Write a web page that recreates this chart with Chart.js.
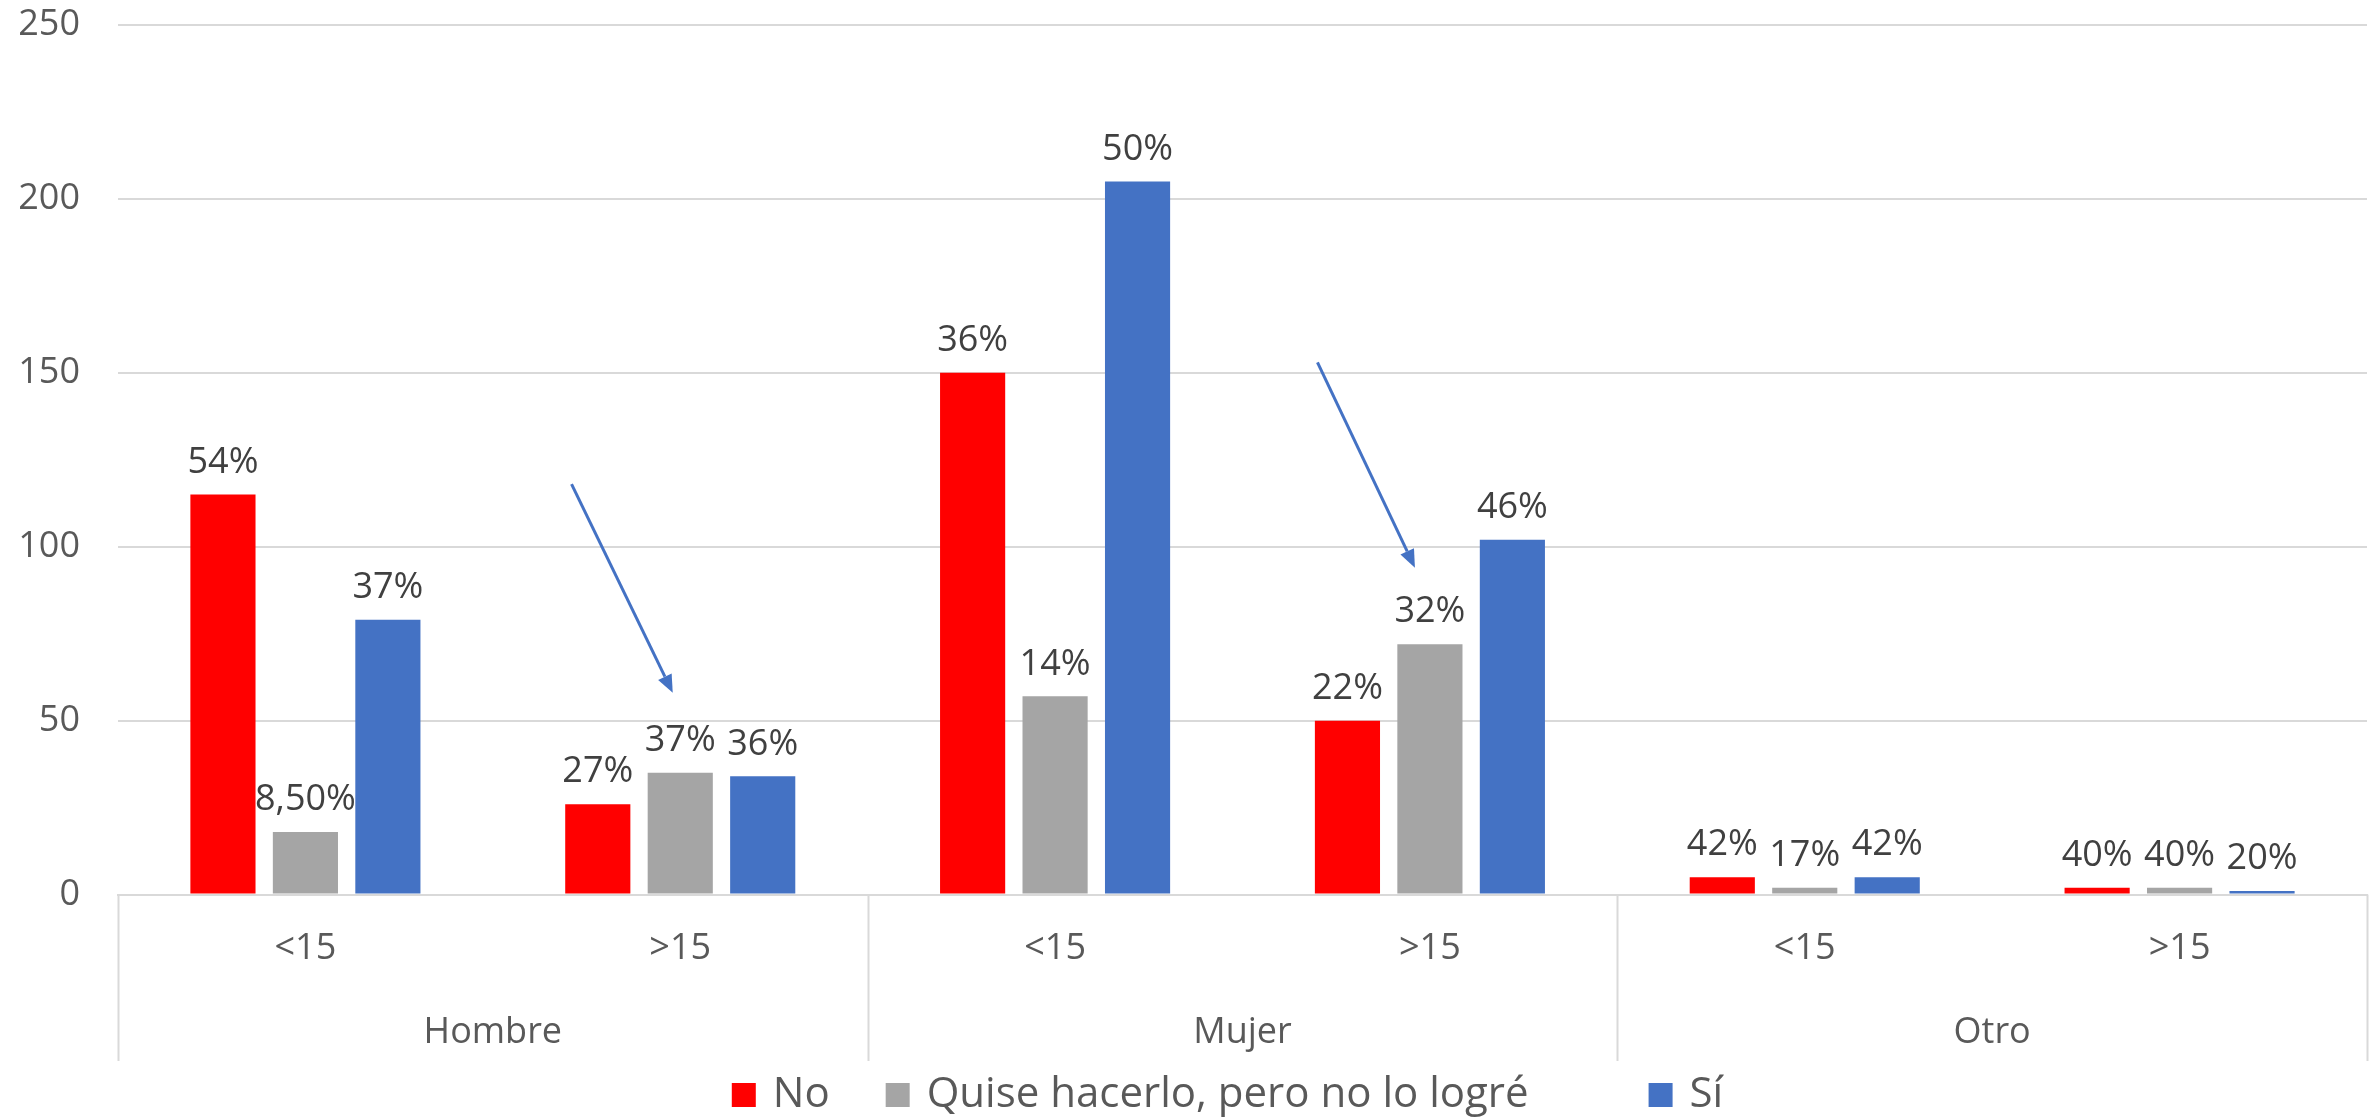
<!DOCTYPE html>
<html>
<head>
<meta charset="utf-8">
<title>Respuestas por sexo y edad</title>
<script src="https://cdn.jsdelivr.net/npm/chart.js@4.4.1/dist/chart.umd.min.js"></script>
<style>
  html, body { margin: 0; padding: 0; background: #ffffff; }
  #wrap { width: 2379px; height: 1118px; }
</style>
</head>
<body>
<div id="wrap"><canvas id="barChart"></canvas></div>
<script>
// categories
var groups = ["Hombre", "Mujer", "Otro"];
var ageBands = ["<15", ">15", "<15", ">15", "<15", ">15"];
var seriesNames = ["No", "Quise hacerlo, pero no lo logré", "Sí"];
var seriesColors = ["#ff0000", "#a5a5a5", "#4472c4"];

// counts per age band
var noValues = [115, 26, 150, 50, 5, 2];
var quiseValues = [18, 35, 57, 72, 2, 2];
var siValues = [79, 34, 205, 102, 5, 1];

// percentage labels shown above each bar
var noLabels = ["54%", "27%", "36%", "22%", "42%", "40%"];
var quiseLabels = ["8,50%", "37%", "14%", "32%", "17%", "40%"];
var siLabels = ["37%", "36%", "50%", "46%", "42%", "20%"];

// y axis
var yMin = 0;
var yMax = 250;
var yStep = 50;

// arrows, in axis units: [xFrom, yFrom, xTo, yTo]
var arrows = [
	[0.71, 118, 0.98, 58],
	[2.70, 153, 2.96, 94]
];

var FONT = "'Open Sans', 'DejaVu Sans', sans-serif";
var GRID = "#d9d9d9";

// percent text over bars
var barLabels = {
	id: "barLabels",
	afterDatasetsDraw: function(chart) {
		var ctx = chart.ctx;
		ctx.save();
		ctx.font = "36px " + FONT;
		ctx.fillStyle = "#404040";
		ctx.textAlign = "center";
		ctx.textBaseline = "bottom";
		chart.data.datasets.forEach(function(ds, i) {
			var meta = chart.getDatasetMeta(i);
			meta.data.forEach(function(bar, j) {
				ctx.fillText(ds.pctLabels[j], bar.x, bar.y - 14);
			});
		});
		ctx.restore();
	}
};

// vertical lines between the Hombre / Mujer / Otro blocks under the axis
var groupLines = {
	id: "groupLines",
	afterDraw: function(chart) {
		var xs = chart.scales.x;
		var x2 = chart.scales.x2;
		var per = ageBands.length / groups.length;
		var ctx = chart.ctx;
		ctx.save();
		ctx.strokeStyle = GRID;
		ctx.lineWidth = 2;
		for (var k = 0; k <= groups.length; k++) {
			var px;
			if (k === 0) px = xs.left;
			else if (k === groups.length) px = xs.right;
			else px = (xs.getPixelForValue(k * per - 1) + xs.getPixelForValue(k * per)) / 2;
			px = Math.round(px) + 0.5;
			ctx.beginPath();
			ctx.moveTo(px, xs.top);
			ctx.lineTo(px, x2.bottom);
			ctx.stroke();
		}
		ctx.restore();
	}
};

// blue arrows pointing at the >15 groups
var arrowMarks = {
	id: "arrowMarks",
	afterDatasetsDraw: function(chart) {
		var xs = chart.scales.x;
		var ys = chart.scales.y;
		var ctx = chart.ctx;
		ctx.save();
		ctx.strokeStyle = "#4472c4";
		ctx.fillStyle = "#4472c4";
		ctx.lineWidth = 3;
		arrows.forEach(function(a) {
			var x0 = xs.getPixelForValue(a[0]), y0 = ys.getPixelForValue(a[1]);
			var x1 = xs.getPixelForValue(a[2]), y1 = ys.getPixelForValue(a[3]);
			var ang = Math.atan2(y1 - y0, x1 - x0);
			var head = 18, half = 7.5;
			var bx = x1 - head * Math.cos(ang), by = y1 - head * Math.sin(ang);
			ctx.beginPath();
			ctx.moveTo(x0, y0);
			ctx.lineTo(bx, by);
			ctx.stroke();
			ctx.beginPath();
			ctx.moveTo(x1, y1);
			ctx.lineTo(bx + half * Math.sin(ang), by - half * Math.cos(ang));
			ctx.lineTo(bx - half * Math.sin(ang), by + half * Math.cos(ang));
			ctx.closePath();
			ctx.fill();
		});
		ctx.restore();
	}
};

// legend row at the bottom, with a wider gap before the last entry
var legendRow = {
	id: "legendRow",
	afterDraw: function(chart) {
		var ctx = chart.ctx;
		var box = 24, textGap = 17;
		var gaps = [56, 120];
		ctx.save();
		ctx.font = "42px " + FONT;
		ctx.textBaseline = "middle";
		var widths = seriesNames.map(function(n) { return box + textGap + ctx.measureText(n).width; });
		var total = widths.reduce(function(a, b) { return a + b; }, 0) + gaps[0] + gaps[1];
		var area = chart.chartArea;
		var x = (area.left + area.right) / 2 - total / 2 - 15;
		var y = chart.height - 23;
		seriesNames.forEach(function(n, i) {
			ctx.fillStyle = seriesColors[i];
			ctx.fillRect(x, y - box / 2, box, box);
			ctx.fillStyle = "#595959";
			ctx.fillText(n, x + box + textGap, y);
			x += widths[i] + (i < gaps.length ? gaps[i] : 0);
		});
		ctx.restore();
	}
};

var data = {
	labels: ageBands,
	datasets: [
		{
			label: seriesNames[0],
			data: noValues,
			pctLabels: noLabels,
			backgroundColor: seriesColors[0]
		},
		{
			label: seriesNames[1],
			data: quiseValues,
			pctLabels: quiseLabels,
			backgroundColor: seriesColors[1]
		},
		{
			label: seriesNames[2],
			data: siValues,
			pctLabels: siLabels,
			backgroundColor: seriesColors[2]
		}
	]
};

var options = {
	responsive: true,
	maintainAspectRatio: false,
	animation: false,
	layout: {
		padding: { top: 25, right: 12, left: 0, bottom: 57 }
	},
	datasets: {
		bar: {
			categoryPercentage: 0.66,
			barPercentage: 0.79
		}
	},
	scales: {
		y: {
			min: yMin,
			max: yMax,
			ticks: {
				stepSize: yStep,
				padding: 0,
				color: "#595959",
				font: { family: FONT, size: 36 }
			},
			// invisible tick marks keep the labels clear of the plot
			grid: { color: GRID, lineWidth: 2, drawTicks: true, tickLength: 38, tickColor: "rgba(0,0,0,0)" },
			border: { display: false },
			afterFit: function(s) { s.width = 118; }
		},
		x: {
			weight: 0,
			grid: { display: false, drawTicks: false },
			border: { display: true, color: GRID, width: 2 },
			ticks: {
				padding: 33,
				color: "#595959",
				font: { family: FONT, size: 36 },
				maxRotation: 0,
				autoSkip: false
			}
		},
		x2: {
			type: "category",
			labels: groups,
			position: "bottom",
			weight: 1,
			offset: true,
			grid: { display: false, drawTicks: false },
			border: { display: false },
			ticks: {
				padding: 7,
				color: "#595959",
				font: { family: FONT, size: 36 },
				maxRotation: 0
			}
		}
	},
	plugins: {
		title: { display: false },
		tooltip: { enabled: false },
		legend: { display: false }
	}
};

var chart = new Chart(document.getElementById("barChart"), {
	type: "bar",
	data: data,
	options: options,
	plugins: [barLabels, groupLines, arrowMarks, legendRow]
});
</script>
</body>
</html>
